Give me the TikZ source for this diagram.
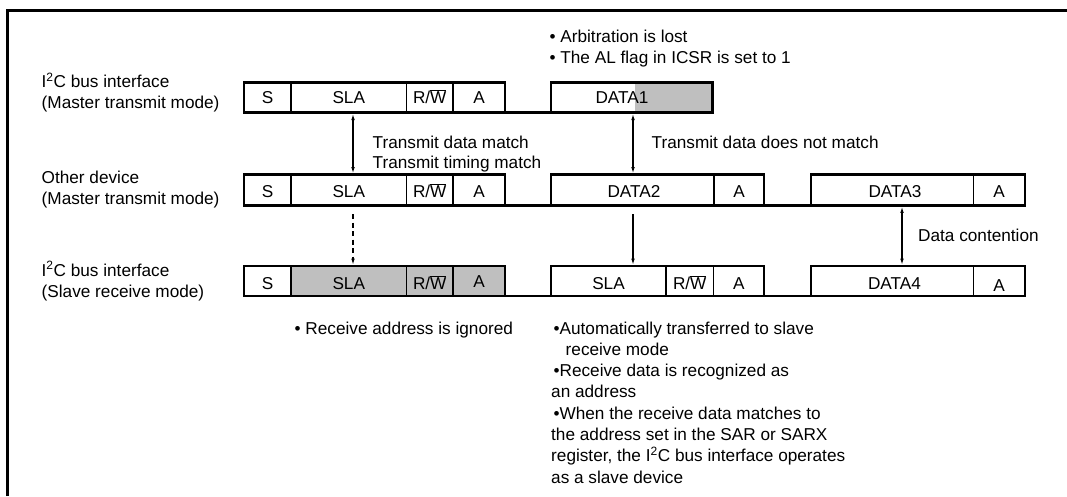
\documentclass[tikz,border=0pt]{standalone}
\usepackage{fontspec}
\setmainfont{Liberation Sans}
\usetikzlibrary{arrows.meta}
\newcommand\myRW{R/$\overline{\hbox{W}}$}
\begin{document}
\begin{tikzpicture}[x=1pt,y=-1pt,
  txt/.style={font=\fontsize{17.2}{21}\selectfont, inner sep=0pt, anchor=base},
  lbl/.style={txt, anchor=base west},
  outl/.style={line width=2.6pt, line join=miter},
  divl/.style={line width=1.1pt},
  tipa/.style={line width=1.1pt, -{Latex[length=6pt,width=3.6pt]}},
  tipb/.style={line width=1.1pt, {Latex[length=6pt,width=3.6pt]}-{Latex[length=6pt,width=3.6pt]}},
  dashline/.style={dash pattern=on 5pt off 3.5pt},
  frameline/.style={line width=3pt},
  shade/.style={fill=black!25}]

\useasboundingbox (0,0) rectangle (1067,496);
\draw[frameline] (7,496) -- (7,10.5) -- (1067,10.5);

% ---------- row 1 ----------
\fill[shade] (635,82.5) rectangle (712.5,112.5);
\draw[divl] (291,82.5) -- (291,112.5) (406.5,82.5) -- (406.5,112.5) (453,82.5) -- (453,112.5);
\draw[outl] (244,82.5) -- (505,82.5) -- (505,112.5) -- (551,112.5) -- (551,82.5) -- (712.5,82.5) -- (712.5,112.5) -- (244,112.5) -- cycle;

% ---------- row 2 ----------
\draw[divl] (291,174.5) -- (291,205.5) (406.5,174.5) -- (406.5,205.5) (453,174.5) -- (453,205.5)
  (714,174.5) -- (714,205.5) (973.5,174.5) -- (973.5,205.5);
\draw[outl] (244,174.5) -- (505,174.5) -- (505,205.5) -- (551,205.5) -- (551,174.5) -- (764,174.5) -- (764,205.5) -- (811,205.5) -- (811,174.5) -- (1025,174.5) -- (1025,205.5) -- (244,205.5) -- cycle;

% ---------- row 3 ----------
\fill[shade] (291,266) rectangle (505,296);
\draw[divl] (291,266) -- (291,296) (406.5,266) -- (406.5,296) (453,266) -- (453,296)
  (666,266) -- (666,296) (713.5,266) -- (713.5,296) (973.5,266) -- (973.5,296);
\draw[outl] (244,266) -- (505,266) -- (505,296) -- (551,296) -- (551,266) -- (764,266) -- (764,296) -- (811,296) -- (811,266) -- (1025,266) -- (1025,296) -- (244,296) -- cycle;

% ---------- cell texts ----------
\node[txt] (r1s)   at (267.5,103) {S};
\node[txt] (r1sla) at (348.75,103) {SLA};
\node[txt] (r1rw)  at (429.75,103) {\myRW};
\node[txt] (r1a)   at (479,103) {A};
\node[txt] (r1d1)  at (622,103.5) {DATA1};

\node[txt] (r2s)   at (267.5,197.5) {S};
\node[txt] (r2sla) at (348.75,197.5) {SLA};
\node[txt] (r2rw)  at (429.75,197.5) {\myRW};
\node[txt] (r2a)   at (479,197.5) {A};
\node[txt] (r2d2)  at (634,197.5) {DATA2};
\node[txt] (r2a2)  at (739,197.5) {A};
\node[txt] (r2d3)  at (895,197.5) {DATA3};
\node[txt] (r2a3)  at (999,197.5) {A};

\node[txt] (r3s)   at (267.5,289) {S};
\node[txt] (r3sla) at (348.75,289) {SLA};
\node[txt] (r3rw)  at (429.75,289) {\myRW};
\node[txt] (r3a)   at (479,287) {A};
\node[txt] (r3sla2) at (608.5,289) {SLA};
\node[txt] (r3rw2) at (689.75,289) {\myRW};
\node[txt] (r3a2)  at (738.75,289) {A};
\node[txt] (r3d4)  at (894.5,289) {DATA4};
\node[txt] (r3a3)  at (999,291.5) {A};

% ---------- row labels ----------
\node[lbl] (l1a) at (41.5,87.5) {I\textsuperscript{2}C bus interface};
\node[lbl] (l1b) at (41.5,108.5) {(Master transmit mode)};
\node[lbl] (l2a) at (41.5,183.5) {Other device};
\node[lbl] (l2b) at (41.5,204.5) {(Master transmit mode)};
\node[lbl] (l3a) at (41.5,276) {I\textsuperscript{2}C bus interface};
\node[lbl] (l3b) at (41.5,297) {(Slave receive mode)};

% ---------- arrows ----------
\coordinate (a1t) at (353,114);   \coordinate (a1b) at (353,173.2);
\coordinate (a2t) at (633,114);   \coordinate (a2b) at (633,173.2);
\coordinate (a3t) at (353,214);   \coordinate (a3b) at (353,264.7);
\coordinate (a4t) at (633,214);   \coordinate (a4b) at (633,264.7);
\coordinate (a5t) at (902,206.8); \coordinate (a5b) at (902,264.7);
\draw[tipb] (a1t) -- (a1b);
\draw[tipb] (a2t) -- (a2b);
\draw[tipa,dashline] (a3t) -- (a3b);
\draw[tipa] (a4t) -- (a4b);
\draw[tipb] (a5t) -- (a5b);

% ---------- annotations ----------
\node[lbl] (n1) at (372.5,148.7) {Transmit data match};
\node[lbl] (n2) at (372.5,168.5) {Transmit timing match};
\node[lbl] (n3) at (651.5,148.7) {Transmit data does not match};
\node[lbl] (n4) at (918,241.5) {Data contention};
\node[lbl] (t1) at (549.4,42.3) {• Arbitration is lost};
\node[lbl] (t2) at (549.4,63.3) {• The AL flag in ICSR is set to 1};
\node[lbl] (b0) at (294.5,334) {• Receive address is ignored};
\node[lbl] (b1) at (553.4,334) {•Automatically transferred to slave};
\node[lbl] (b2) at (565.5,355.3) {receive mode};
\node[lbl] (b3) at (553.4,376.6) {•Receive data is recognized as};
\node[lbl] (b4) at (551,397.9) {an address};
\node[lbl] (b5) at (553.4,419.2) {•When the receive data matches to};
\node[lbl] (b6) at (551,440.5) {the address set in the SAR or SARX};
\node[lbl] (b7) at (551,461.8) {register, the I\textsuperscript{2}C bus interface operates};
\node[lbl] (b8) at (551,483.1) {as a slave device};
\end{tikzpicture}
\end{document}
